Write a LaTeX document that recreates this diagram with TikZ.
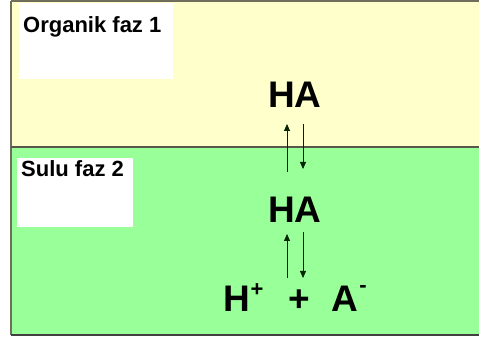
\documentclass[tikz,border=0pt]{standalone}
\usepackage{fontspec}
\setmainfont{Liberation Sans}
\usetikzlibrary{arrows.meta}
\definecolor{orgyellow}{HTML}{FFFFCC}
\definecolor{aqgreen}{HTML}{99FF99}
\definecolor{framegray}{HTML}{6E6E5A}
\tikzset{
  label box/.style={fill=white, draw=none},
  phase label/.style={font=\bfseries\fontsize{22}{24}\selectfont, inner sep=0pt, anchor=base west},
  species/.style={font=\bfseries\fontsize{37}{40}\selectfont, inner sep=0pt},
  charge/.style={font=\bfseries\fontsize{22}{24}\selectfont, inner sep=0pt},
  eqarrow/.style={line width=0.8pt, draw=black!85!green, -{Triangle[length=7pt,width=6pt]}}
}
\begin{document}
\begin{tikzpicture}[x=1pt,y=-1pt]
\useasboundingbox (0,0) rectangle (479,347);
% phases
\fill[orgyellow] (11,1) rectangle (481,147);
\fill[aqgreen] (11,147) rectangle (481,335);
\draw[framegray, line width=1.2pt] (11,1) -- (481,1);
\draw[framegray, line width=1.2pt] (11,1) -- (11,335);
\draw[framegray!80!black, line width=1.5pt] (11,147) -- (481,147);
\draw[black!75, line width=2pt] (11,335) -- (481,335);
% label boxes
\fill[label box] (19,3) rectangle (173,79);
\fill[label box] (17,158) rectangle (133,227);
\node[phase label] (org) at (23,33) {Organik faz 1};
\node[phase label] (sulu) at (21,177) {Sulu faz 2};
% species
\node[species, anchor=base] (ha1) at (295,108) {HA};
\node[species, anchor=base] (ha2) at (295,223) {HA};
\node[species, anchor=base] (h) at (237,312) {H};
\node[charge, anchor=center] (hsup) at (257,290) {+};
\node[species, anchor=base] (plus) at (299,312) {+};
\node[species, anchor=base] (a) at (345,312) {A};
\node[charge, anchor=center] (asup) at (363,289) {-};
% arrows
\coordinate (u1s) at (287,172); \coordinate (u1e) at (287,124);
\coordinate (d1s) at (303,124); \coordinate (d1e) at (303,169);
\coordinate (u2s) at (287,278); \coordinate (u2e) at (287,234);
\coordinate (d2s) at (303,232); \coordinate (d2e) at (303,278);
\draw[eqarrow] (u1s) -- (u1e);
\draw[eqarrow] (d1s) -- (d1e);
\draw[eqarrow] (u2s) -- (u2e);
\draw[eqarrow] (d2s) -- (d2e);
\end{tikzpicture}
\end{document}
